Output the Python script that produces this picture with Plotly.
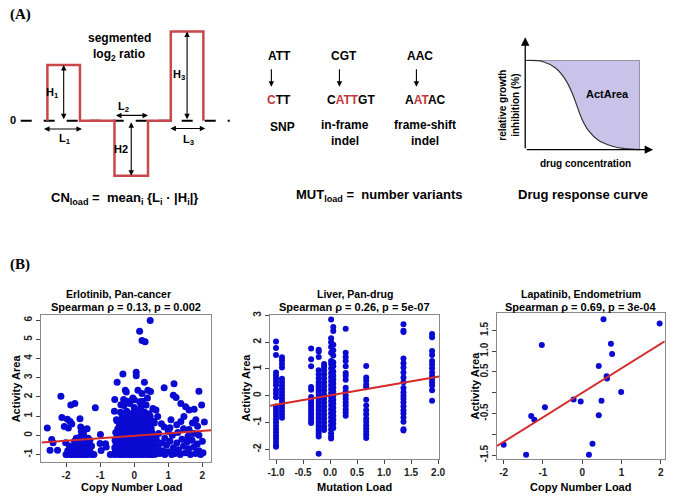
import plotly.graph_objects as go

W, H = 675, 497
SANS = "Liberation Sans, Arial, sans-serif"
SERIF = "Liberation Serif, Times New Roman, serif"
BLUE = "#0a0ad2"
RED = "#d42a2a"

# ---------------- Panel A data ----------------
seg_start = [0.0, 2.06, 3.79]
seg_end = [1.0, 3.09, 4.79]
seg_height = [1.0, -0.99, 1.6]
baseline_x = [-0.82, 5.6]

drc_conc = [0, 0.15, 0.265, 0.352, 0.41, 0.453, 0.496, 0.553, 0.64, 0.755, 0.87, 1.0]
drc_resp = [1, 0.989, 0.915, 0.786, 0.639, 0.491, 0.344, 0.215, 0.104, 0.041, 0.011, 0.0]

# ---------------- Panel B data ----------------
# Erlotinib, pan-cancer: (copy number load, activity area)
erl_left = [(-2.55, 0.38), (-2.47, -0.77), (-2.42, -0.22), (-2.38, -0.39), (-2.25, -0.77),
            (-2.15, 2.04), (-2.12, 0.93), (-2.05, 0.46), (-2.01, -0.39), (-1.96, 0.84),
            (-1.93, 0.38), (-1.86, 1.58), (-1.74, 1.66), (-1.83, 0.59), (-1.88, 0.72),
            (-1.59, 0.86), (-1.57, 0.43), (-1.55, 0.2), (-1.5, 0.05), (-1.45, 0.3),
            (-1.38, 0.35), (-1.14, 1.44), (-0.99, 0.04), (-1.0, -0.42), (-0.97, -0.79),
            (-0.84, -0.44), (-0.82, -0.6), (-0.7, -1.0),
            (-2.0, -1.0), (-1.95, -0.98), (-1.9, -1.0), (-1.85, -0.99), (-1.8, -1.0), (-1.75, -0.97),
            (-1.7, -1.0), (-1.65, -0.99), (-1.6, -1.0), (-1.55, -0.98), (-1.5, -1.0), (-1.45, -0.99),
            (-1.4, -1.0), (-1.33, -0.98), (-1.25, -1.0), (-1.18, -0.99),
            (-1.95, -0.8), (-1.85, -0.85), (-1.75, -0.75), (-1.68, -0.9), (-1.62, -0.7), (-1.55, -0.8),
            (-1.48, -0.9), (-1.42, -0.75), (-1.35, -0.85), (-1.28, -0.9),
            (-1.9, -0.55), (-1.8, -0.6), (-1.7, -0.5), (-1.6, -0.55), (-1.52, -0.45), (-1.45, -0.6),
            (-1.38, -0.5), (-1.3, -0.65), (-1.25, -0.55),
            (-1.75, -0.3), (-1.65, -0.25), (-1.58, -0.35), (-1.5, -0.2), (-1.42, -0.3), (-1.35, -0.15),
            (-1.6, -0.1), (-1.48, 0.0), (-1.7, -0.15), (-1.3, -0.25)]
erl_mid = [(-0.33, 3.2), (-0.5, 2.77), (-0.26, 2.35), (-0.23, 2.26), (0.06, 3.28), (0.06, 3.11),
           (0.3, 2.77), (0.16, 5.42), (0.23, 4.94), (0.32, 4.87), (0.47, 5.98), (0.11, 2.35),
           (0.23, 2.18), (0.4, 2.35), (-0.04, 1.94), (0.16, 1.75), (-0.13, 1.66), (0.35, 1.58),
           (-0.57, 1.87), (-0.31, 1.87), (-0.52, 0.81), (-0.43, 0.55), (0.39, 1.94), (0.48, 2.28),
           (-0.19, 1.77), (0.24, 1.77), (0.0, 1.85), (-0.39, 1.6), (-0.58, 1.26),
           (-0.3, 1.55), (0.0, 1.45), (0.2, 1.5), (0.55, 1.4),
           (-0.4, 1.2), (-0.22, 1.25), (-0.05, 1.15), (0.08, 1.28), (0.18, 1.18), (0.3, 1.22), (0.44, 1.12),
           (-0.35, 0.95), (-0.2, 1.0), (-0.1, 0.92), (0.0, 1.02), (0.1, 0.95), (0.19, 0.9), (0.28, 1.0),
           (0.38, 0.93), (0.47, 0.98),
           (-0.5, 0.75), (-0.38, 0.72), (-0.28, 0.78), (-0.18, 0.7), (-0.08, 0.76), (0.03, 0.72),
           (0.12, 0.8), (0.22, 0.74), (0.3, 0.7), (0.41, 0.77), (0.58, 0.72),
           (-0.43, 0.55), (-0.35, 0.5), (-0.25, 0.57), (-0.17, 0.52), (-0.08, 0.58), (0.0, 0.5),
           (0.08, 0.55), (0.16, 0.6), (0.24, 0.5), (0.32, 0.56), (0.4, 0.52), (0.49, 0.57),
           (-0.48, 0.35), (-0.4, 0.32), (-0.31, 0.38), (-0.22, 0.3), (-0.14, 0.36), (-0.06, 0.33),
           (0.02, 0.38), (0.1, 0.3), (0.18, 0.35), (0.26, 0.32), (0.34, 0.38), (0.42, 0.3), (0.5, 0.34),
           (-0.54, 0.15), (-0.45, 0.12), (-0.36, 0.18), (-0.27, 0.1), (-0.19, 0.16), (-0.11, 0.12),
           (-0.03, 0.18), (0.05, 0.1), (0.13, 0.15), (0.21, 0.12), (0.29, 0.18), (0.37, 0.1),
           (0.45, 0.16), (0.53, 0.12),
           (-0.5, -0.05), (-0.42, -0.08), (-0.34, -0.02), (-0.26, -0.06), (-0.18, -0.04), (-0.1, -0.08),
           (-0.02, -0.03), (0.06, -0.07), (0.14, -0.02), (0.22, -0.06), (0.3, -0.04), (0.38, -0.08),
           (0.46, -0.03), (0.54, -0.06),
           (-0.56, -0.25), (-0.47, -0.22), (-0.38, -0.28), (-0.3, -0.24), (-0.22, -0.27), (-0.14, -0.22),
           (-0.06, -0.26), (0.02, -0.23), (0.1, -0.28), (0.18, -0.24), (0.26, -0.22), (0.34, -0.27),
           (0.42, -0.25), (0.5, -0.22), (0.58, -0.28),
           (-0.53, -0.45), (-0.45, -0.42), (-0.37, -0.48), (-0.29, -0.44), (-0.21, -0.47), (-0.13, -0.42),
           (-0.05, -0.46), (0.03, -0.43), (0.11, -0.48), (0.19, -0.44), (0.27, -0.42), (0.35, -0.47),
           (0.43, -0.45), (0.51, -0.42), (0.6, -0.48),
           (-0.57, -0.65), (-0.48, -0.62), (-0.4, -0.68), (-0.32, -0.64), (-0.24, -0.67), (-0.16, -0.62),
           (-0.08, -0.66), (0.0, -0.63), (0.08, -0.68), (0.16, -0.64), (0.24, -0.62), (0.32, -0.67),
           (0.4, -0.65), (0.48, -0.62), (0.56, -0.68), (0.64, -0.64),
           (-0.55, -0.85), (-0.47, -0.8), (-0.39, -0.88), (-0.31, -0.82), (-0.23, -0.86), (-0.15, -0.8),
           (-0.07, -0.85), (0.01, -0.82), (0.09, -0.88), (0.17, -0.83), (0.25, -0.8), (0.33, -0.86),
           (0.41, -0.84), (0.49, -0.8), (0.57, -0.87),
           (-0.58, -1.0), (-0.5, -0.98), (-0.43, -1.0), (-0.36, -0.99), (-0.29, -1.0), (-0.22, -0.98),
           (-0.15, -1.0), (-0.08, -0.99), (-0.01, -1.0), (0.06, -0.98), (0.13, -1.0), (0.2, -0.99),
           (0.27, -1.0), (0.34, -0.98), (0.41, -1.0), (0.48, -0.99), (0.55, -1.0), (0.62, -0.98)]
erl_right = [(0.88, 2.48), (1.17, 2.69), (1.15, 2.09), (1.23, 1.97), (1.9, 2.3), (1.98, 1.58),
             (1.37, 1.66), (1.51, 1.49), (1.61, 1.32), (1.76, 1.36), (1.08, 0.81), (1.37, 0.72),
             (1.46, 0.98), (1.71, 0.64), (1.81, 0.81), (1.86, 0.47), (1.61, 0.3), (0.88, 0.43),
             (0.64, 1.32), (0.69, 0.98), (0.59, 0.64), (2.06, 0.69),
             (0.65, -0.2), (0.7, -0.6), (0.75, -0.95), (0.8, -0.4), (0.85, -0.8), (0.9, -1.0),
             (0.95, -0.5), (1.0, -0.85), (1.05, -0.3), (1.1, -1.0), (1.15, -0.65), (1.2, -0.95),
             (1.25, -0.4), (1.3, -0.75), (1.35, -1.0), (1.4, -0.2), (1.45, -0.55), (1.5, -0.9),
             (1.55, -0.35), (1.6, -0.7), (1.65, -1.0), (1.7, -0.25), (1.75, -0.6), (1.8, -0.95),
             (1.85, -0.45), (1.9, -0.8), (1.95, -1.0), (2.0, -0.3), (2.02, -0.9), (0.72, 0.1),
             (0.9, -0.15), (1.0, 0.2), (1.12, 0.0), (1.28, 0.15), (1.45, 0.35), (1.58, -0.05),
             (1.75, 0.1), (1.9, 0.0), (0.8, 0.6), (1.25, 0.55), (1.05, 0.4)]
erl_fit = (-0.02, 0.127)   # intercept, slope of the red line

# Liver, pan-drug: mutation load levels and the activity areas in each column
liver_levels = [-1.0, -0.89, -0.35, -0.21, -0.11, 0.02, 0.06, 0.29, 0.67, 1.36, 1.89]
liver_cols = [
    [2.02, 1.78, 1.52, 0.87, 0.75, 0.63, 0.51, 0.39, 0.21, 0.08, -0.06, -0.4, -0.52, -0.64, -0.76,
     -0.88, -1.0, -1.13, -1.25, -1.37, -1.49, -1.61, -1.73, -1.85, -1.9],
    [1.44, 1.32, 1.18, 1.05, 0.63, 0.51, 0.39, 0.27, 0.15, 0.02, -0.1, -0.22, -0.34, -0.46, -0.58,
     -0.7, -0.82],
    [1.76, 1.36, 1.1, 0.33, 0.22, -0.05, -0.15, -0.25, -0.35, -0.45, -0.55, -0.65, -0.75, -0.85,
     -0.95, -1.02],
    [1.72, 1.65, 1.45, 0.95, 0.8, 0.65, 0.5, 0.4, 0.3, 0.2, 0.1, 0.0, -0.1, -0.2, -0.3, -0.4, -0.5,
     -0.6, -0.7, -0.8, -0.9, -1.0, -1.1, -1.2, -1.3, -1.4, -1.52, -2.17],
    [1.18, 1.08, 0.95, 0.8, 0.65, 0.5, 0.35, 0.2, 0.05, -0.1, -0.25, -0.4, -0.55, -0.7, -0.85,
     -1.0, -1.15, -1.28],
    [2.85, 2.15, 2.0, 1.82, 1.6, 1.3, 1.18, 1.02, 0.85, 0.7, 0.55, 0.4, 0.25, 0.1, -0.05, -0.2,
     -0.35, -0.5, -0.65, -0.8, -0.95, -1.1, -1.25, -1.4, -1.52, -1.6],
    [2.57, 2.42, 1.9, 1.7, 1.5, 1.25, 1.1, 0.9, 0.75, 0.6, 0.45, 0.3, 0.15, 0.0, -0.15, -0.3,
     -0.45, -0.6, -0.75, -0.9, -1.05, -1.2],
    [2.5, 1.6, 1.45, 1.3, 1.1, 0.85, 0.75, 0.6, 0.3, 0.15, 0.0, -0.12, -0.25, -0.37, -0.5, -0.62,
     -0.75],
    [1.11, 0.68, 0.56, 0.41, 0.32, -0.15, -0.36, -0.54, -0.69, -0.85, -0.97, -1.1, -1.22, -1.34,
     -1.46, -1.58],
    [2.67, 2.43, 2.38, 1.39, 1.21, 1.05, 0.87, 0.68, 0.5, 0.29, 0.13, 0.0, -0.11, -0.24, -0.39,
     -0.54, -0.66, -0.81, -0.97, -1.25, -1.3],
    [2.3, 2.18, 1.67, 1.52, 1.3, 1.17, 1.03, 0.87, 0.74, 0.62, 0.5, 0.38, 0.2, -0.19],
]
liver_fit = (0.01, 0.35)

# Lapatinib, endometrium
lap_x = [-2.0, -1.43, -1.3, -1.22, -1.03, -0.95, -0.22, -0.04, 0.17, 0.26, 0.42, 0.42, 0.49,
         0.54, 0.62, 0.63, 0.73, 0.76, 0.99, 1.97]
lap_y = [-1.25, -1.49, -0.56, -0.65, 1.15, -0.35, -0.16, -0.21, -1.49, -1.23, 0.645, -0.54, -0.19,
         1.77, 0.40, 0.34, 1.18, 0.93, 0.02, 1.67]
lap_fit = (0.0, 0.59)

plot_titles = [("Erlotinib, Pan-cancer", "Spearman ρ = 0.13, p = 0.002"),
               ("Liver, Pan-drug", "Spearman ρ = 0.26, p = 5e-07"),
               ("Lapatinib, Endometrium", "Spearman ρ = 0.69, p = 3e-04")]
x_labels = ["Copy Number Load", "Mutation Load", "Copy Number Load"]
y_label = "Activity Area"

# ---------------- helpers ----------------
def X(p):
    return p / W

def Y(p):
    return 1 - p / H

annotations = []

def txt(x, y, s, size=11, bold=True, angle=0, family=SANS, color="black", xanchor="center"):
    annotations.append(dict(x=X(x), y=Y(y), xref="paper", yref="paper",
                            text=("<b>%s</b>" % s) if bold else s, showarrow=False,
                            textangle=angle, xanchor=xanchor, yanchor="middle",
                            font=dict(size=size, family=family, color=color)))

fig = go.Figure()

# ---------------- Panel A: segmented log2 ratio ----------------
bx = [baseline_x[0], baseline_x[1]]
fig.add_trace(go.Scatter(x=bx, y=[0, 0], mode="lines", xaxis="x4", yaxis="y4",
                         line=dict(color="black", width=2, dash="11px,12px"), showlegend=False))
sx, sy = [], []
for s, e, h in zip(seg_start, seg_end, seg_height):
    sx += [s, s, e, e]
    sy += [0, h, h, 0]
fig.add_trace(go.Scatter(x=sx, y=sy, mode="lines", xaxis="x4", yaxis="y4",
                         line=dict(color="#c8474a", width=2.5), showlegend=False))

def darrow(x0, y0, x1, y1):
    annotations.append(dict(x=x1, y=y1, ax=x0, ay=y0, xref="x4", yref="y4", axref="x4",
                            ayref="y4", text="", showarrow=True, arrowhead=2, startarrowhead=2,
                            arrowside="end+start", arrowsize=1, arrowwidth=1.1,
                            arrowcolor="black", standoff=0, startstandoff=0))

mid = [(s + e) / 2 for s, e in zip(seg_start, seg_end)]
darrow(mid[0], 0, mid[0], seg_height[0])
darrow(mid[1], 0, mid[1], seg_height[1])
darrow(mid[2], 0, mid[2], seg_height[2])
darrow(seg_start[0] - 0.15, -0.15, seg_end[0] + 0.06, -0.15)
darrow(seg_start[1], 0.094, seg_end[1], 0.094)
darrow(seg_start[2] - 0.06, -0.14, seg_end[2] + 0.06, -0.14)

def seglab(u, v, s):
    annotations.append(dict(x=u, y=v, xref="x4", yref="y4", text="<b>%s</b>" % s,
                            showarrow=False, font=dict(size=11, family=SANS, color="black")))

seglab(0.15, 0.5, "H<sub>1</sub>")
seglab(0.55, -0.33, "L<sub>1</sub>")
seglab(2.33, 0.24, "L<sub>2</sub>")
seglab(2.27, -0.51, "H2")
seglab(4.03, 0.82, "H<sub>3</sub>")
seglab(4.33, -0.35, "L<sub>3</sub>")

txt(10, 118, "0", size=11)
txt(118, 34, "segmented", size=12)
txt(118, 52, "log<sub>2</sub> ratio", size=12)
txt(123, 197, "CN<sub>load</sub> =  mean<sub>i</sub> {L<sub>i</sub> · |H<sub>i</sub>|}", size=13)

# ---------------- Panel A: mutations ----------------
REDT = "#c0393b"
def r(s):
    return "<span style='color:%s'>%s</span>" % (REDT, s)

txt(280, 53, "ATT", size=12)
txt(346, 53, "CGT", size=12)
txt(423, 53, "AAC", size=12)
txt(280, 97, r("C") + "TT", size=12)
txt(353, 97, "C" + r("ATT") + "GT", size=12)
txt(428, 97, "A" + r("AT") + "AC", size=12)
for ax_ in [272, 341, 419]:
    annotations.append(dict(x=X(ax_), y=Y(84), xref="paper", yref="paper", ax=0, ay=-19,
                            text="", showarrow=True, arrowhead=2, arrowsize=1, arrowwidth=1.1,
                            arrowcolor="black", standoff=0))
txt(283, 125, "SNP", size=12)
txt(347, 123, "in-frame", size=12)
txt(347, 139, "indel", size=12)
txt(428, 123, "frame-shift", size=12)
txt(428, 139, "indel", size=12)
txt(381, 194, "MUT<sub>load</sub> =  number variants", size=13)

# ---------------- Panel A: drug response ----------------
fig.add_trace(go.Scatter(x=[0, 1, 1], y=[1, 1, 0], mode="lines", xaxis="x5", yaxis="y5",
                         line=dict(color="#666666", width=1), showlegend=False))
fig.add_trace(go.Scatter(x=[0, 1], y=[1, 1], mode="lines", xaxis="x5", yaxis="y5",
                         line=dict(color="rgba(0,0,0,0)", width=0), showlegend=False))
fig.add_trace(go.Scatter(x=drc_conc, y=drc_resp, mode="lines", xaxis="x5", yaxis="y5",
                         line=dict(color="#333333", width=1.2, shape="spline"),
                         fill="tonexty", fillcolor="#c9c3ea", showlegend=False))
for (x0, y0, x1, y1) in [(0, 0, 0, 1.26), (0, 0, 1.12, 0)]:
    annotations.append(dict(x=x1, y=y1, ax=x0, ay=y0, xref="x5", yref="y5", axref="x5",
                            ayref="y5", text="", showarrow=True, arrowhead=2, arrowsize=1.3,
                            arrowwidth=1.3, arrowcolor="black", standoff=0))
txt(613, 91, "ActArea", size=11)
txt(512, 103, "relative growth<br>inhibition (%)", size=10, angle=-90)
txt(590, 162, "drug concentration", size=10)
txt(588, 193, "Drug response curve", size=13)

# panel letters
txt(5, 11, "(A)", size=15, family=SERIF, xanchor="left")
txt(5, 264, "(B)", size=15, family=SERIF, xanchor="left")

# ---------------- Panel B scatter plots ----------------
erl = erl_left + erl_mid + erl_right
fig.add_trace(go.Scatter(x=[p[0] for p in erl], y=[p[1] for p in erl], mode="markers",
                         xaxis="x", yaxis="y", marker=dict(color=BLUE, size=7), showlegend=False))
erl_rng = [-2.72, 2.26]
fig.add_trace(go.Scatter(x=erl_rng, y=[erl_fit[0] + erl_fit[1] * v for v in erl_rng], mode="lines",
                         xaxis="x", yaxis="y", line=dict(color=RED, width=2), showlegend=False))

lx, ly = [], []
for lev, col in zip(liver_levels, liver_cols):
    lx += [lev] * len(col)
    ly += col
fig.add_trace(go.Scatter(x=lx, y=ly, mode="markers", xaxis="x2", yaxis="y2",
                         marker=dict(color=BLUE, size=6), showlegend=False))
liv_rng = [-1.11, 2.02]
fig.add_trace(go.Scatter(x=liv_rng, y=[liver_fit[0] + liver_fit[1] * v for v in liv_rng],
                         mode="lines", xaxis="x2", yaxis="y2", line=dict(color=RED, width=2),
                         showlegend=False))

fig.add_trace(go.Scatter(x=lap_x, y=lap_y, mode="markers", xaxis="x3", yaxis="y3",
                         marker=dict(color=BLUE, size=6), showlegend=False))
lap_rng = [-2.17, 2.1]
fig.add_trace(go.Scatter(x=lap_rng, y=[lap_fit[0] + lap_fit[1] * v for v in lap_rng],
                         mode="lines", xaxis="x3", yaxis="y3", line=dict(color=RED, width=2),
                         showlegend=False))

boxes = [(39, 211, 315, 465), (270.7, 442, 315, 462), (500.7, 670.7, 313, 461.7)]
common = dict(showline=True, linecolor="#8a8a8a", linewidth=1, mirror=True, ticks="outside",
              ticklen=4, tickcolor="#444", showgrid=False, zeroline=False,
              tickfont=dict(size=10, family=SANS, color="#222", weight="bold"))

layout_axes = {}
xranges = [erl_rng, liv_rng, lap_rng]
yranges = [[-1.41, 6.29], [-2.38, 3.03], [-1.6, 1.93]]
xticks = [dict(tickvals=[-2, -1, 0, 1, 2], ticktext=["-2", "-1", "0", "1", "2"]),
          dict(tickvals=[-1, -0.5, 0, 0.5, 1, 1.5, 2],
               ticktext=["-1.0", "-0.5", "0.0", "0.5", "1.0", "1.5", "2.0"]),
          dict(tickvals=[-2, -1, 0, 1, 2], ticktext=["-2", "-1", "0", "1", "2"])]
yticks = [dict(tickvals=list(range(-1, 7)), ticktext=[str(v) for v in range(-1, 7)]),
          dict(tickvals=list(range(-2, 4)), ticktext=[str(v) for v in range(-2, 4)]),
          dict(tickvals=[-1.5, -1, -0.5, 0, 0.5, 1, 1.5],
               ticktext=["-1.5", "", "-0.5", "", "0.5", "1.0", "1.5"])]
names = ["", "2", "3"]
for i, (l, rr, t, b) in enumerate(boxes):
    n = names[i]
    layout_axes["xaxis" + n] = dict(domain=[X(l), X(rr)], range=xranges[i], anchor="y" + n,
                                    **xticks[i], **common)
    layout_axes["yaxis" + n] = dict(domain=[Y(b), Y(t)], range=yranges[i], anchor="x" + n,
                                    tickangle=-90, **yticks[i], **common)
    cx = (l + rr) / 2
    t1, t2 = plot_titles[i]
    txt(117 if i == 0 else cx, 294, t1, size=10.5)
    txt(cx, 307, t2, size=11)
    txt(cx if i else 130, 489.5, x_labels[i], size=11)
    txt([13, 246.7, 478][i], (t + b) / 2, y_label, size=11, angle=-90)

# schematic axes (hidden)
layout_axes["xaxis4"] = dict(domain=[0, X(240)], range=[-45 / 33, 195 / 33], visible=False,
                             anchor="y4")
layout_axes["yaxis4"] = dict(domain=[Y(180), Y(20)], range=[(118.3 - 180) / 56.5, (118.3 - 20) / 56.5],
                             visible=False, anchor="x4")
layout_axes["xaxis5"] = dict(domain=[X(500), 1], range=[-0.253, 1.259], visible=False, anchor="y5")
layout_axes["yaxis5"] = dict(domain=[Y(160), Y(30)], range=[-0.136, 1.302], visible=False,
                             anchor="x5")

fig.update_layout(width=W, height=H, margin=dict(l=0, r=0, t=0, b=0),
                  paper_bgcolor="white", plot_bgcolor="white", showlegend=False,
                  hovermode=False, annotations=annotations, **layout_axes)

fig.write_html("out.html", config={"displayModeBar": False, "staticPlot": True},
               post_script="document.body.style.margin='0';document.body.style.padding='0';")
